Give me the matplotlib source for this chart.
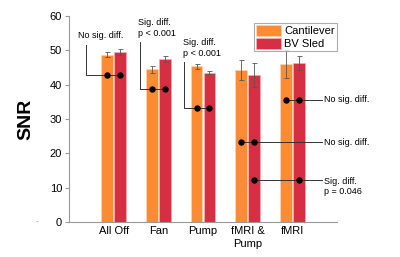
import numpy as np
import matplotlib
matplotlib.use("Agg")
import matplotlib.pyplot as plt

plt.rcParams['font.family'] = ['Liberation Sans', 'DejaVu Sans']

# данные
conditions = ['All Off', 'Fan', 'Pump', 'fMRI &\nPump', 'fMRI']
cantilever = [48.7, 44.5, 45.3, 44.3, 46.0]
cantilever_err = [0.7, 1.0, 0.8, 2.9, 4.0]
bv_sled = [49.4, 47.4, 43.5, 42.8, 46.4]
bv_sled_err = [0.9, 0.8, 0.5, 3.5, 2.0]

# аннотации слева: (группа, уровень y, текст, x текста, x линии, верх линии, низ текста)
left_notes = [
    (1, 42.9, 'No sig. diff.', 0.21, 0.375, 51.6, 53.0),
    (2, 38.8, 'Sig. diff.\np < 0.001', 1.54, 1.59, 52.4, 53.6),
    (3, 33.3, 'Sig. diff.\np < 0.001', 2.545, 2.58, 46.5, 47.7),
]
# аннотации справа: (точки [(группа, серия)], уровень y, текст)
right_notes = [
    ([(5, 0), (5, 1)], 35.6, 'No sig. diff.'),
    ([(4, 0), (4, 1)], 23.2, 'No sig. diff.'),
    ([(4, 1), (5, 1)], 12.1, 'Sig. diff.\np = 0.046'),
]

c_orange = '#FC8B33'
c_red = '#D62E42'
gray = '#999999'

x = np.arange(1, len(conditions) + 1)
off = 0.145
w = 0.265

fig = plt.figure(figsize=(4.0, 2.57), dpi=100)
ax = fig.add_axes([0.1725, 0.136, 0.67, 0.802])

ax.bar(x - off, cantilever, w, color=c_orange, edgecolor='#FFD9B8', linewidth=0.4,
       label='Cantilever', zorder=2)
ax.bar(x + off, bv_sled, w, color=c_red, edgecolor='#F3B6BC', linewidth=0.4,
       label='BV Sled', zorder=2)
ax.errorbar(x - off, cantilever, yerr=cantilever_err, fmt='none', ecolor='#555555',
            elinewidth=0.6, capsize=1.8, capthick=0.6, zorder=3)
ax.errorbar(x + off, bv_sled, yerr=bv_sled_err, fmt='none', ecolor='#555555',
            elinewidth=0.6, capsize=1.8, capthick=0.6, zorder=3)

# левые подписи
for g, y, txt, xt, xl, ytop, yt in left_notes:
    ax.plot([xl, xl, g + off], [ytop, y, y], color='#333333', lw=0.7, zorder=4)
    ax.plot([g - off, g + off], [y, y], 'o', color='black', ms=3.6, zorder=5)
    ax.text(xt, yt, txt, fontsize=6.5, ha='left', va='bottom', linespacing=1.25)

# правые подписи
xr = 5.66
for pts, y, txt in right_notes:
    xs = [g + (off if s else -off) for g, s in pts]
    ax.plot([min(xs), xr], [y, y], color='#333333', lw=0.7, zorder=4)
    ax.plot(xs, [y, y], 'o', color='black', ms=3.6, zorder=5)
    if '\n' in txt:
        ax.text(xr + 0.05, y + 1.1, txt, fontsize=6.5, ha='left', va='top', linespacing=1.25)
    else:
        ax.text(xr + 0.05, y, txt, fontsize=6.5, ha='left', va='center')

ax.set_xlim(0, 6)
ax.set_ylim(0, 60)
ax.set_yticks(range(0, 61, 10))
ax.set_xticks(x)
ax.set_xticklabels(conditions, fontsize=8, linespacing=1.3)
ax.tick_params(axis='x', length=0, pad=3)
ax.tick_params(axis='y', labelsize=8, length=3, color=gray, pad=2)
for s in ['top', 'right']:
    ax.spines[s].set_visible(False)
for s in ['left', 'bottom']:
    ax.spines[s].set_color(gray)
    ax.spines[s].set_linewidth(0.8)

ax.set_ylabel('SNR', fontsize=14, fontweight='bold', labelpad=11)
fig.text(37 / 400, 1 - 222 / 257, '-', fontsize=6, color=gray, ha='center', va='center')

leg = ax.legend(loc='upper left', bbox_to_anchor=(254 / 400, 1 - 23 / 257),
                bbox_transform=fig.transFigure, fontsize=8, fancybox=False,
                borderaxespad=0, handlelength=2.2, handleheight=1.1,
                handletextpad=0.3, borderpad=0.2, labelspacing=0.15)
leg.get_frame().set_edgecolor(gray)
leg.get_frame().set_linewidth(0.8)
leg.set_zorder(6)

fig.savefig('out.png', dpi=100)
